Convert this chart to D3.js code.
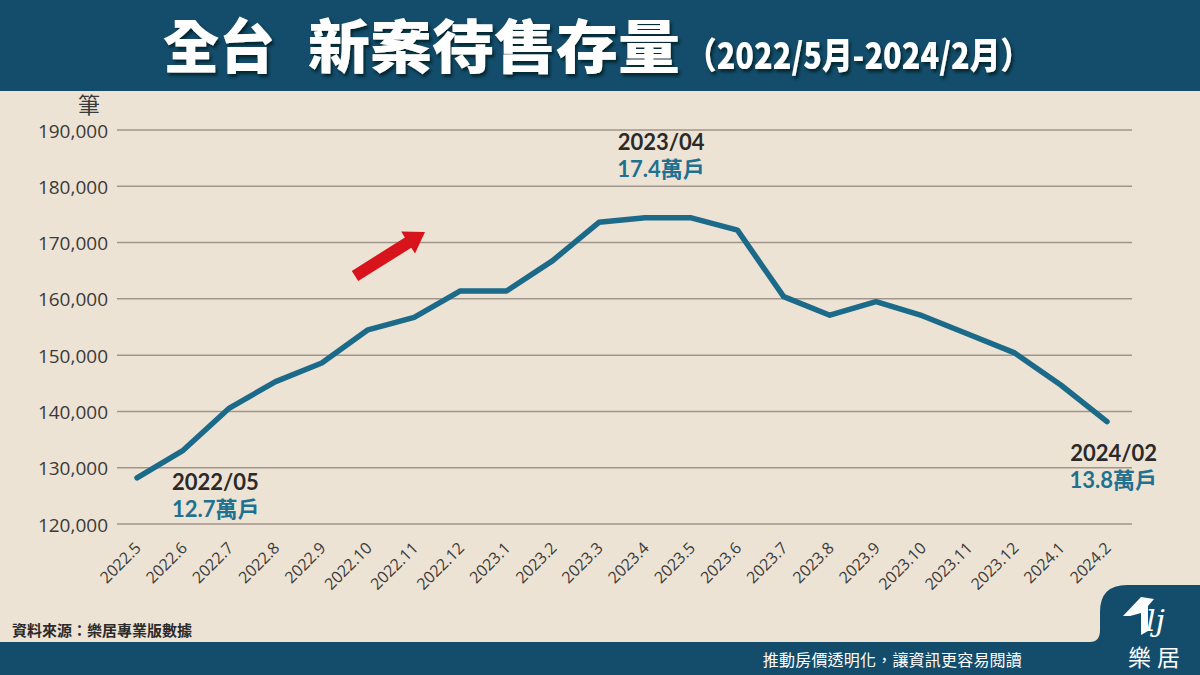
<!DOCTYPE html>
<html><head><meta charset="utf-8">
<script src="https://cdn.jsdelivr.net/npm/d3@7/dist/d3.min.js"></script>
<style>
html,body{margin:0;padding:0;background:#ede3d4;}
svg{display:block;}
</style></head>
<body>
<svg id="c" width="1200" height="675"></svg>
<script>
const months = ["2022.5","2022.6","2022.7","2022.8","2022.9","2022.10","2022.11","2022.12","2023.1","2023.2","2023.3","2023.4","2023.5","2023.6","2023.7","2023.8","2023.9","2023.10","2023.11","2023.12","2024.1","2024.2"];
const stock = [128200,133100,140600,145300,148600,154500,156700,161400,161400,166800,173600,174400,174400,172200,160400,157100,159500,157000,153700,150400,144700,138200];
const yTicks = [120000,130000,140000,150000,160000,170000,180000,190000];
const notes = [
  {month:"2022.5", date:"2022/05", val:"12.7萬戶"},
  {month:"2023.4", date:"2023/04", val:"17.4萬戶"},
  {month:"2024.2", date:"2024/02", val:"13.8萬戶"}
];

const svg = d3.select("#c");
const CJK = "'Noto Sans CJK TC','Noto Sans',sans-serif";
const NAVY = "#134d6b";

svg.append("rect").attr("width",1200).attr("height",675).attr("fill","#ede3d4");

// header
svg.append("rect").attr("x",0).attr("y",0).attr("width",1200).attr("height",91).attr("fill",NAVY);
const defs = svg.append("defs");
const f = defs.append("filter").attr("id","sh").attr("x","-10%").attr("y","-20%").attr("width","130%").attr("height","150%");
f.append("feDropShadow").attr("dx",2).attr("dy",3).attr("stdDeviation",1.5).attr("flood-color","#061a26").attr("flood-opacity",0.85);

const tg = svg.append("g").attr("filter","url(#sh)").attr("fill","#fff").style("font-family",CJK).style("font-weight",900);
tg.append("text").attr("x",163).attr("y",68).attr("font-size",58).attr("textLength",112).attr("lengthAdjust","spacingAndGlyphs").text("全台");
tg.append("text").attr("x",308).attr("y",68).attr("font-size",58).attr("textLength",372).attr("lengthAdjust","spacingAndGlyphs").text("新案待售存量");
tg.append("text").attr("x",686).attr("y",69).attr("font-size",36).attr("textLength",345).attr("lengthAdjust","spacingAndGlyphs").text("（2022/5月-2024/2月）");

// scales
const x = d3.scalePoint().domain(months).range([137,1107]);
const y = d3.scaleLinear().domain([120000,190000]).range([524,130]);

// grid
svg.append("g").selectAll("line").data(yTicks).join("line")
  .attr("x1",117).attr("x2",1132)
  .attr("y1",d=>y(d)).attr("y2",d=>y(d))
  .attr("stroke","#a0958a").attr("stroke-width",1.5);

// y axis labels
const yAxis = d3.axisLeft(y).tickValues(yTicks).tickSize(0).tickPadding(0).tickFormat(d3.format(","));
const ya = svg.append("g").attr("transform","translate(108,1)").call(yAxis);
ya.select(".domain").remove();
ya.selectAll("text").attr("fill","#3a3a3a").style("font-family","'Open Sans',sans-serif").style("font-size","19px");

svg.append("text").attr("x",89).attr("y",113).attr("text-anchor","middle").attr("fill","#3a3a3a")
  .style("font-family",CJK).style("font-size","22px").text("筆");

// x axis labels
const xAxis = d3.axisBottom(x).tickSize(0).tickPadding(0);
const xa = svg.append("g").call(xAxis);
xa.select(".domain").remove();
xa.selectAll(".tick").attr("transform",d=>`translate(${x(d)+5},549)`);
xa.selectAll("text").attr("y",0).attr("dy",0).attr("transform","rotate(-45)")
  .attr("text-anchor","end").attr("fill","#3a3a3a")
  .style("font-family","'Open Sans',sans-serif").style("font-size","16px");

// line
const line = d3.line().x((d,i)=>x(months[i])).y(d=>y(d));
svg.append("path").datum(stock).attr("d",line).attr("fill","none")
  .attr("stroke","#1c6a8a").attr("stroke-width",5.5).attr("stroke-linejoin","round").attr("stroke-linecap","round");

// red arrow
svg.append("path").attr("d","M358.2,281.1 L351.8,270.9 L404.9,237.5 L401.2,231.6 L425,232 L415,253.6 L411.3,247.7 Z")
  .attr("fill","#d7141b");

// annotations
const noteStyle = [
  {dx:35, dy1:490, anchor:"start"},
  {dx:16, dy1:150, anchor:"middle"},
  {dx:50, dy1:461, anchor:"end"}
];
notes.forEach((n,i)=>{
  const s = noteStyle[i];
  const px = x(n.month)+s.dx;
  const t = svg.append("text").attr("x",px).attr("y",s.dy1).attr("text-anchor",s.anchor)
    .style("font-family","Lato,'Noto Sans CJK TC',sans-serif").style("font-weight",700).style("font-size","22px");
  t.append("tspan").attr("x",px).attr("fill","#2a2a2a").text(n.date);
  t.append("tspan").attr("x",px).attr("dy",27).attr("fill","#1e7190").text(n.val);
});

// source
svg.append("text").attr("x",12).attr("y",636).attr("fill","#2a2a2a")
  .style("font-family",CJK).style("font-weight",700).style("font-size","15px").text("資料來源：樂居專業版數據");

// footer band + logo tab
svg.append("rect").attr("x",0).attr("y",642).attr("width",1200).attr("height",33).attr("fill",NAVY);
svg.append("path").attr("d","M1090,642 Q1100,642 1100,630 L1100,612 Q1100,585 1127,585 L1200,585 L1200,645 L1090,645 Z").attr("fill",NAVY);

svg.append("text").attr("x",1022).attr("y",666).attr("text-anchor","end").attr("fill","#fff")
  .style("font-family",CJK).style("font-size","16px").style("letter-spacing","0.2px").text("推動房價透明化，讓資訊更容易閱讀");

// logo
svg.append("path").attr("d","M1123,616 L1141,597 L1154,599 L1148,606 L1148,631 L1141,635 L1141,613 L1130,616 Z").attr("fill","#fff");
svg.append("text").attr("x",1146).attr("y",631).attr("fill","#fff")
  .style("font-family","'DejaVu Serif',serif").style("font-style","italic").style("font-size","30px").text("lj");
svg.append("text").attr("x",1128).attr("y",666).attr("fill","#fff")
  .style("font-family",CJK).style("font-size","23px").text("樂");
svg.append("text").attr("x",1157).attr("y",666).attr("fill","#fff")
  .style("font-family",CJK).style("font-size","23px").text("居");
</script>
</body></html>
